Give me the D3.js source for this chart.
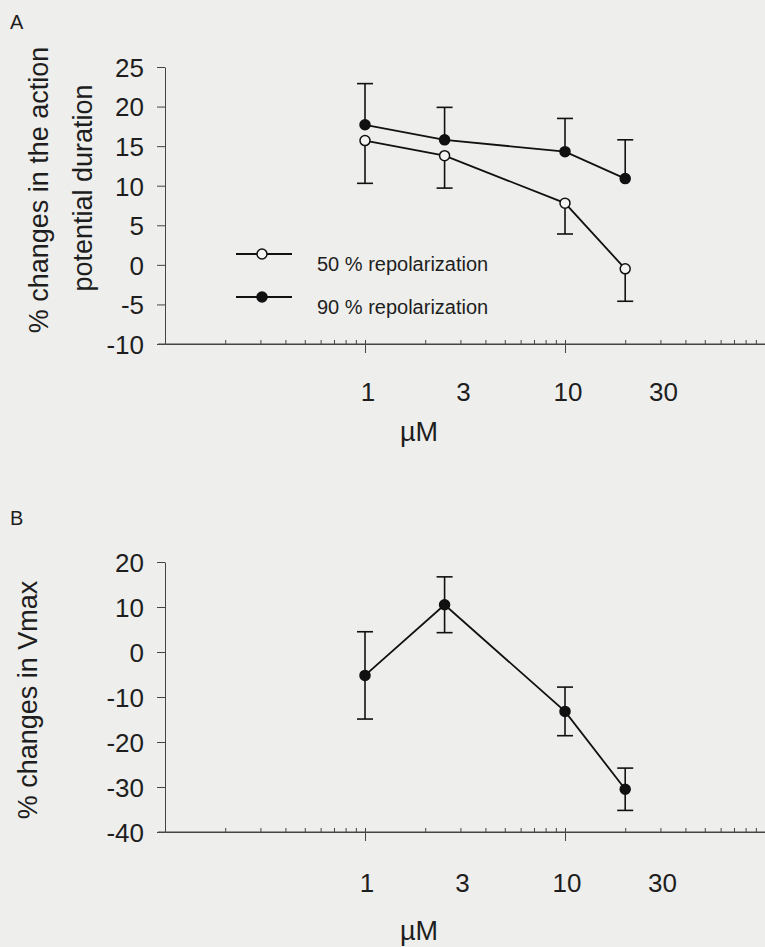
<!DOCTYPE html>
<html>
<head>
<meta charset="utf-8">
<script src="https://d3js.org/d3.v7.min.js"></script>
<style>
  body { margin: 0; background: #eeeeec; }
  svg { display: block; font-family: "Liberation Sans", Arial, sans-serif; }
  .axis path, .axis line { stroke: #444; stroke-width: 1; }
  .axis text { fill: #1e1e1e; font-size: 26px; }
  .lbl { fill: #1e1e1e; }
  .series { fill: none; stroke: #111; stroke-width: 1.8; }
  .err { stroke: #111; stroke-width: 1.6; }
</style>
</head>
<body>
<div id="chart"></div>
<script>
"use strict"

// concentrations (µM)
var conc = [1, 2.5, 10, 20];
var xLabels = [1, 3, 10, 30];

// panel A: % change in action potential duration
var apd50 = [15.7, 13.8, 7.8, -0.5];
var apd50Err = [5.4, 4.1, 3.9, 4.1];
var apd90 = [17.7, 15.8, 14.3, 10.9];
var apd90Err = [5.2, 4.1, 4.2, 4.9];
var yTicksA = [-10, -5, 0, 5, 10, 15, 20, 25];

// panel B: % change in Vmax
var vmax = [-5.2, 10.5, -13.2, -30.5];
var vmaxErr = [9.7, 6.2, 5.4, 4.7];
var yTicksB = [-40, -30, -20, -10, 0, 10, 20];

var width = 765, height = 947;

var svg = d3.select("#chart").append("svg")
    .attr("width", width)
    .attr("height", height);

var x = d3.scaleLog().domain([0.1, 100]).range([165, 765]);

var minorTicks = [];
[0.1, 1, 10].forEach(function(d) {
  for (var k = 2; k <= 9; k++) minorTicks.push(d * k);
});

function xAxis(yPos, labelY, labelDx, titleY) {
  svg.append("g").attr("class", "axis")
      .attr("transform", "translate(0," + yPos + ")")
      .call(d3.axisTop(x).tickValues(minorTicks).tickSize(4).tickSizeOuter(0).tickFormat(""));
  var maj = svg.append("g").attr("class", "axis")
      .attr("transform", "translate(0," + yPos + ")")
      .call(d3.axisBottom(x).tickValues([1, 10]).tickSize(9).tickSizeOuter(0).tickFormat(""));
  maj.select(".domain").attr("d", "M158,0H765");
  maj.selectAll(".tick line").attr("y1", -4);

  svg.append("g").selectAll("text")
    .data(xLabels)
    .enter().append("text")
      .attr("class", "lbl")
      .attr("x", function(d) { return x(d) + labelDx; })
      .attr("y", labelY)
      .attr("text-anchor", "middle")
      .attr("font-size", 26)
      .text(function(d) { return d; });

  svg.append("text")
      .attr("class", "lbl")
      .attr("x", 419)
      .attr("y", titleY)
      .attr("text-anchor", "middle")
      .attr("font-size", 27)
      .text("µM");
}

function yAxis(y, ticks) {
  var g = svg.append("g").attr("class", "axis")
      .attr("transform", "translate(165,0)")
      .call(d3.axisLeft(y).tickValues(ticks).tickSize(8).tickPadding(13).tickSizeOuter(0)
        .tickFormat(function(d) { return String(d); }));
  g.selectAll("text").attr("dy", "0.36em");
}

function drawSeries(y, vals, errs, dir, filled) {
  var pts = conc.map(function(c, i) { return { c: c, v: vals[i], e: errs[i] }; });
  var g = svg.append("g");

  // error bars
  pts.forEach(function(p) {
    var lo = dir <= 0 ? p.v - p.e : p.v;
    var hi = dir >= 0 ? p.v + p.e : p.v;
    g.append("line").attr("class", "err")
        .attr("x1", x(p.c)).attr("x2", x(p.c))
        .attr("y1", y(lo)).attr("y2", y(hi));
    if (dir >= 0) g.append("line").attr("class", "err")
        .attr("x1", x(p.c) - 8).attr("x2", x(p.c) + 8)
        .attr("y1", y(hi)).attr("y2", y(hi));
    if (dir <= 0) g.append("line").attr("class", "err")
        .attr("x1", x(p.c) - 8).attr("x2", x(p.c) + 8)
        .attr("y1", y(lo)).attr("y2", y(lo));
  });

  var line = d3.line()
      .x(function(d) { return x(d.c); })
      .y(function(d) { return y(d.v); });

  g.append("path").attr("class", "series").attr("d", line(pts));

  g.selectAll("circle")
    .data(pts)
    .enter().append("circle")
      .attr("cx", function(d) { return x(d.c); })
      .attr("cy", function(d) { return y(d.v); })
      .attr("r", 5)
      .attr("fill", filled ? "#111" : "#f4f4f2")
      .attr("stroke", "#111")
      .attr("stroke-width", 1.5);
}

// ---------- panel A ----------
var yA = d3.scaleLinear().domain([-10, 25]).range([344, 67]);

svg.append("text").attr("class", "lbl")
    .attr("x", 10).attr("y", 29).attr("font-size", 20).text("A");

yAxis(yA, yTicksA);
xAxis(yA(-10), 401, 3, 441);

svg.append("text").attr("class", "lbl")
    .attr("transform", "translate(47.5,190) rotate(-90)")
    .attr("text-anchor", "middle").attr("font-size", 27)
    .text("% changes in the action");
svg.append("text").attr("class", "lbl")
    .attr("transform", "translate(91.5,188) rotate(-90)")
    .attr("text-anchor", "middle").attr("font-size", 27)
    .text("potential duration");

drawSeries(yA, apd90, apd90Err, 1, true);
drawSeries(yA, apd50, apd50Err, -1, false);

// legend
var legend = svg.append("g");
[{ y: 254, t: "50 % repolarization", f: false },
 { y: 297, t: "90 % repolarization", f: true }].forEach(function(d) {
  legend.append("line").attr("class", "series")
      .attr("x1", 236).attr("x2", 292).attr("y1", d.y).attr("y2", d.y);
  legend.append("circle")
      .attr("cx", 262).attr("cy", d.y).attr("r", 5)
      .attr("fill", d.f ? "#111" : "#f4f4f2")
      .attr("stroke", "#111").attr("stroke-width", 1.5);
  legend.append("text").attr("class", "lbl")
      .attr("x", 317).attr("y", d.y + 17).attr("font-size", 20)
      .text(d.t);
});

// ---------- panel B ----------
var yB = d3.scaleLinear().domain([-40, 20]).range([832, 562]);

svg.append("text").attr("class", "lbl")
    .attr("x", 10).attr("y", 525).attr("font-size", 20).text("B");

yAxis(yB, yTicksB);
xAxis(yB(-40), 892, 2, 940);

svg.append("text").attr("class", "lbl")
    .attr("transform", "translate(36.5,700) rotate(-90)")
    .attr("text-anchor", "middle").attr("font-size", 27)
    .text("% changes in Vmax");

drawSeries(yB, vmax, vmaxErr, 0, true);
</script>
</body>
</html>
